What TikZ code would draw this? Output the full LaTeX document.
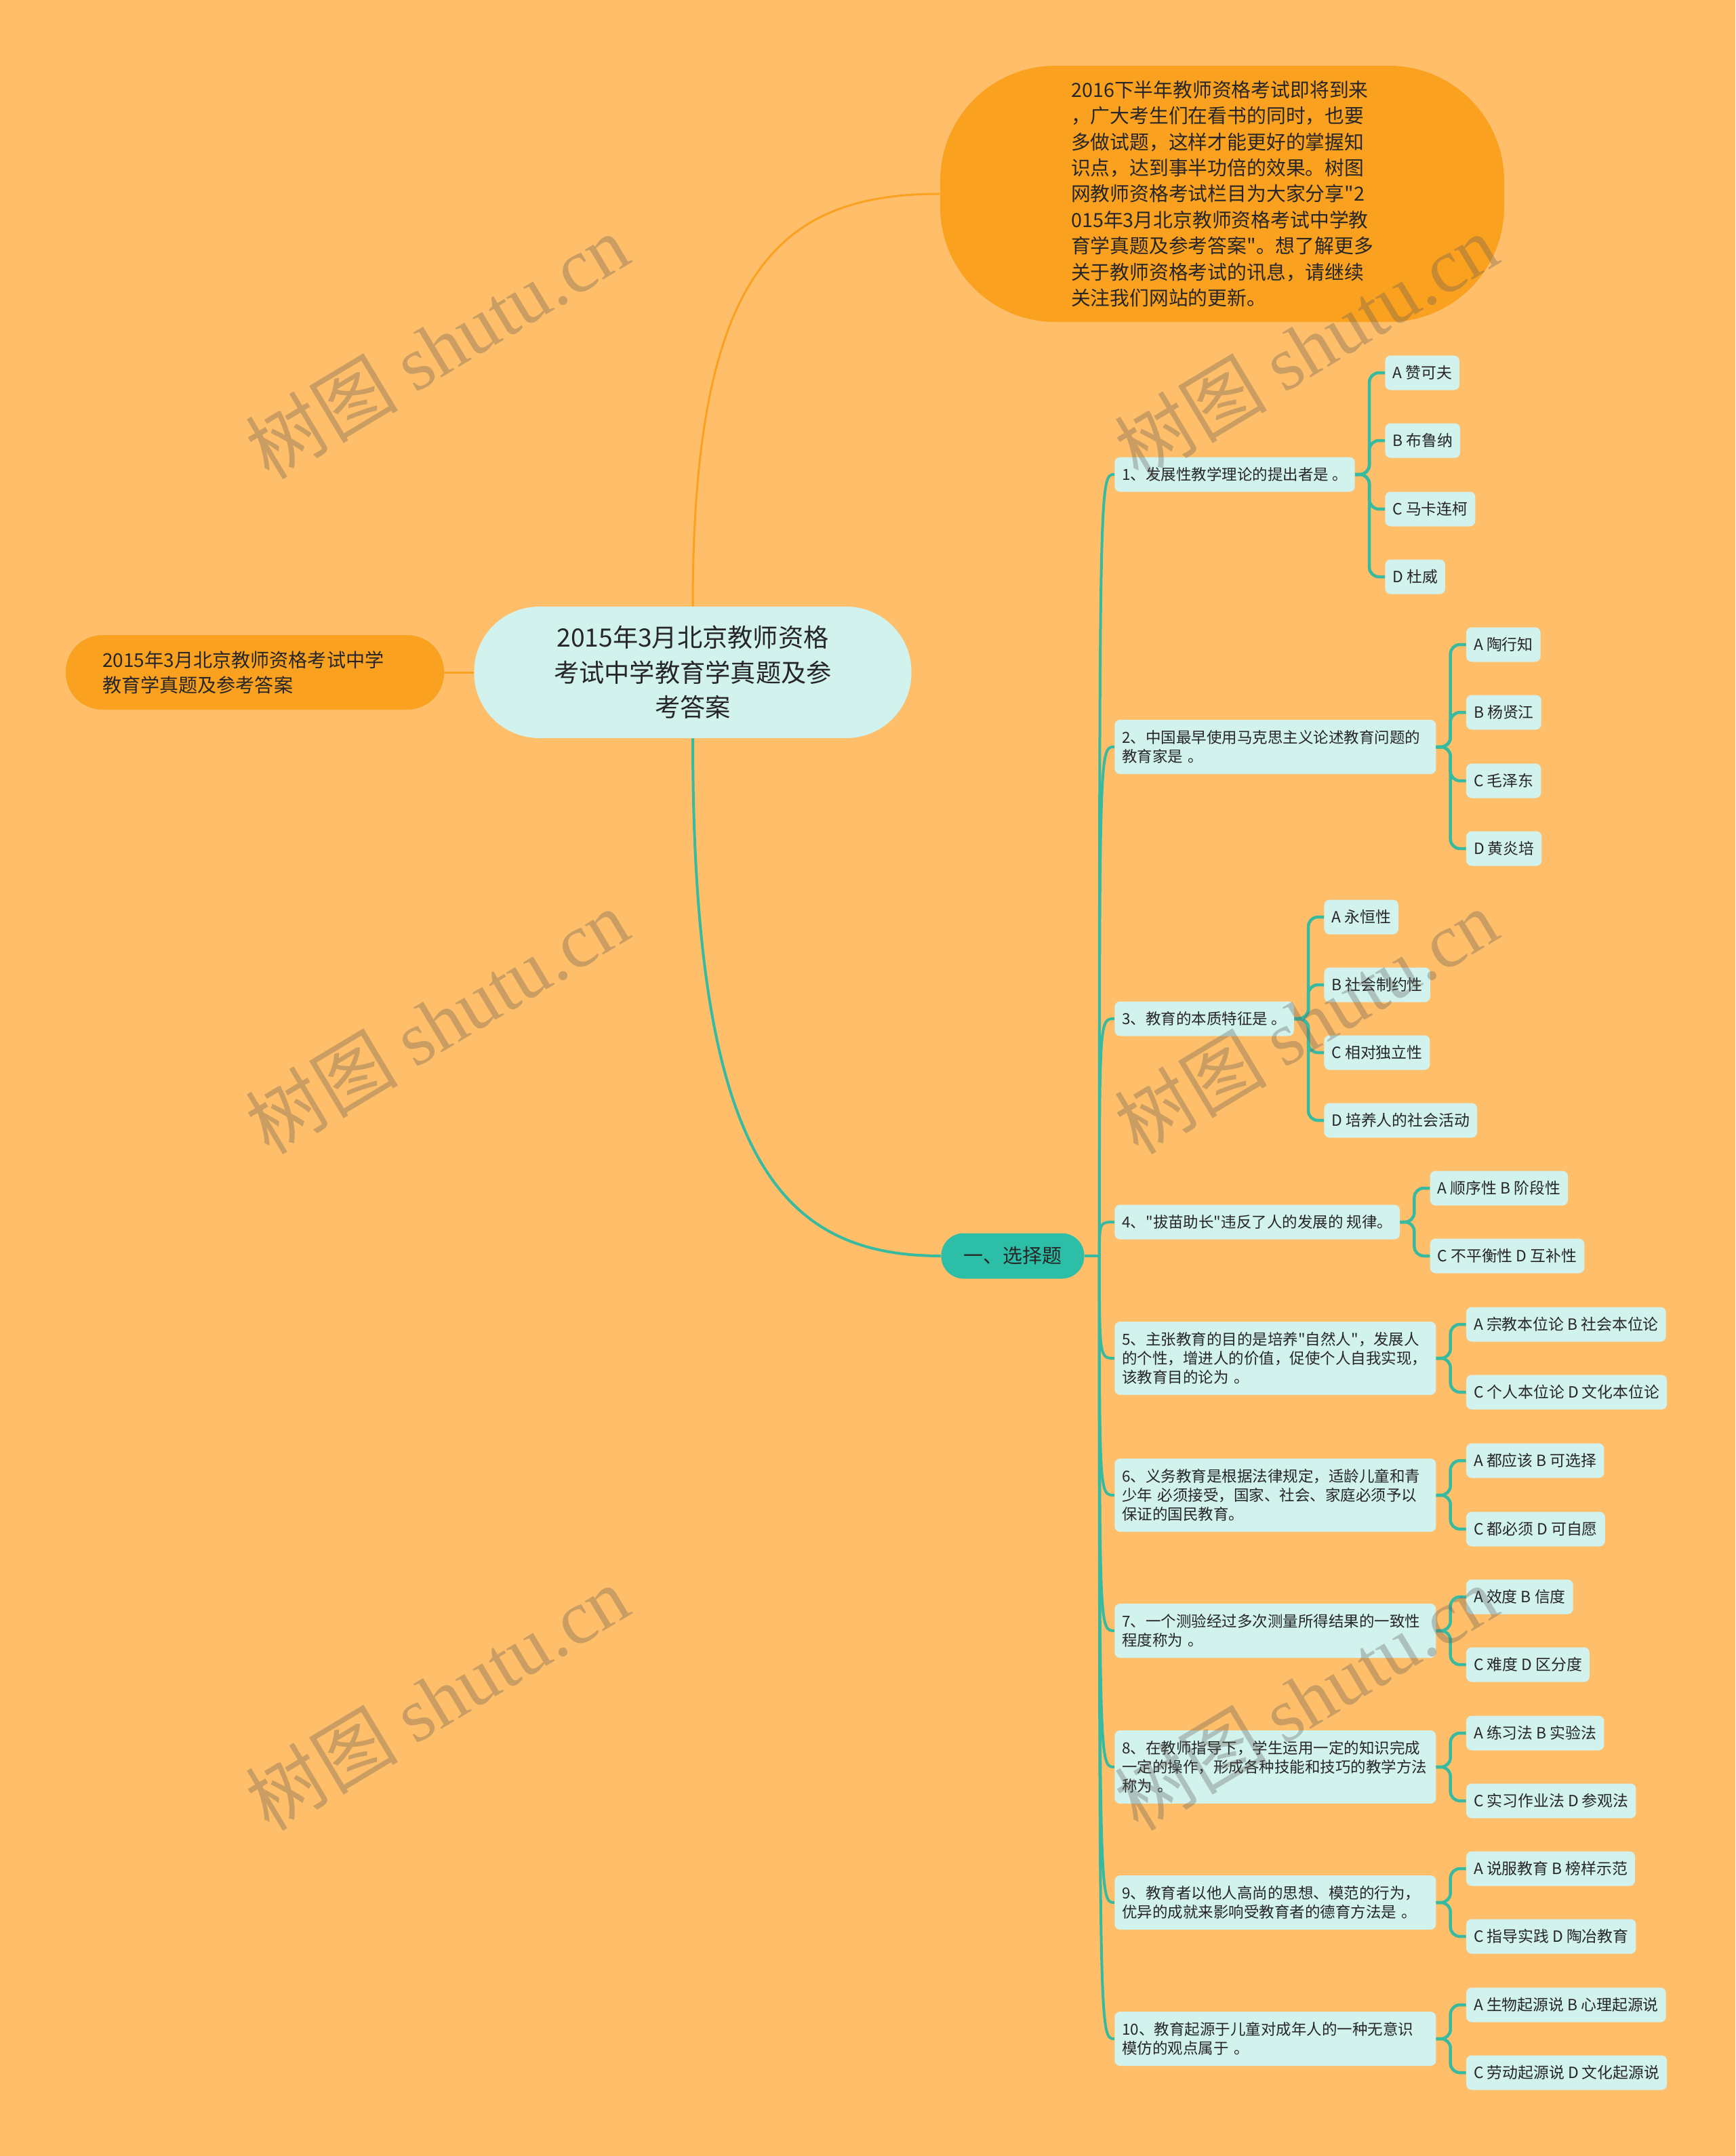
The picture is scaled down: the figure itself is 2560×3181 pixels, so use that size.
\documentclass[tikz,border=0pt]{standalone}
\usepackage{fontspec}
\setmainfont{Noto Sans CJK SC}[Ligatures=TeXOff]
\newfontfamily\wmlatin{Liberation Serif}
\usetikzlibrary{calc}
\definecolor{bgc}{RGB}{254,190,106}
\definecolor{orn}{RGB}{251,161,32}
\definecolor{cyb}{RGB}{210,242,238}
\definecolor{tea}{RGB}{45,190,168}
\definecolor{tln}{RGB}{56,186,160}
\definecolor{txt}{RGB}{38,38,38}
\definecolor{wmc}{RGB}{95,90,85}
\def\PX{0.02cm}
\tikzset{
  qbox/.style={fill=cyb, rounded corners=8*\PX, inner xsep=11*\PX, inner ysep=0pt, anchor=west, text=txt,
    font=\fontsize{12.8}{16.1}\selectfont, align=left, minimum height=51*\PX},
  qtwo/.style={qbox, text width=452*\PX, minimum height=80*\PX},
  qthree/.style={qbox, text width=452*\PX, minimum height=108*\PX},
  abox/.style={qbox, font=\fontsize{13}{16.1}\selectfont},
  tline/.style={draw=tln, line width=4*\PX},
  oline/.style={draw=orn, line width=3*\PX},
  aline/.style={draw=tln, line width=4.5*\PX, rounded corners=14*\PX},
  wm/.style={text=wmc, opacity=0.32, font=\fontsize{64}{70}\selectfont, rotate=31},
}
\begin{document}
\begin{tikzpicture}[x=0.02cm, y=-0.02cm]
\useasboundingbox (0,0) rectangle (2560,3181);
\fill[bgc] (0,0) rectangle (2560,3181);

% main nodes
\node[fill=orn, rounded corners=170*\PX, minimum width=832*\PX, minimum height=378*\PX, text=txt,
  align=left, font=\fontsize{16.4}{21.9}\selectfont, inner sep=0pt] (intro) at (1803,286)
  {2016下半年教师资格考试即将到来\\，广大考生们在看书的同时，也要\\多做试题，这样才能更好的掌握知\\识点，达到事半功倍的效果。树图\\网教师资格考试栏目为大家分享"2\\015年3月北京教师资格考试中学教\\育学真题及参考答案"。想了解更多\\关于教师资格考试的讯息，请继续\\关注我们网站的更新。};

\node[fill=cyb, rounded corners=96*\PX, minimum width=645*\PX, minimum height=194*\PX, text=txt,
  align=center, font=\fontsize{21.2}{29.4}\selectfont, inner sep=0pt] (center) at (1022,992)
  {2015年3月北京教师资格\\考试中学教育学真题及参\\考答案};

\node[fill=orn, rounded corners=54*\PX, minimum height=110*\PX, text=txt, text width=450*\PX,
  inner xsep=54*\PX, inner ysep=0pt,
  align=left, font=\fontsize{16}{20.9}\selectfont] (left) at (376,992)
  {2015年3月北京教师资格考试中学\\教育学真题及参考答案};

\node[fill=tea, rounded corners=33*\PX, minimum width=211*\PX, minimum height=67*\PX, text=txt,
  font=\fontsize{16.5}{20}\selectfont, inner sep=0pt] (sel) at (1494,1853) {一、选择题};

% questions
\node[qbox] (q1) at (1644,700) {1、发展性教学理论的提出者是 。};
\node[qtwo] (q2) at (1644,1102) {2、中国最早使用马克思主义论述教育问题的\\教育家是 。};
\node[qbox] (q3) at (1644,1503) {3、教育的本质特征是 。};
\node[qbox] (q4) at (1644,1803) {4、"拔苗助长"违反了人的发展的 规律。};
\node[qthree] (q5) at (1644,2004) {5、主张教育的目的是培养"自然人"，发展人\\的个性，增进人的价值，促使个人自我实现，\\该教育目的论为 。};
\node[qthree] (q6) at (1644,2206) {6、义务教育是根据法律规定，适龄儿童和青\\少年 必须接受，国家、社会、家庭必须予以\\保证的国民教育。};
\node[qtwo] (q7) at (1644,2406) {7、一个测验经过多次测量所得结果的一致性\\程度称为 。};
\node[qthree] (q8) at (1644,2607) {8、在教师指导下，学生运用一定的知识完成\\一定的操作，形成各种技能和技巧的教学方法\\称为 。};
\node[qtwo] (q9) at (1644,2807) {9、教育者以他人高尚的思想、模范的行为，\\优异的成就来影响受教育者的德育方法是 。};
\node[qtwo] (q10) at (1644,3008) {10、教育起源于儿童对成年人的一种无意识\\模仿的观点属于 。};

% answer columns: 44px right of each question
\foreach \q in {q1,q2,q3,q4,q5,q6,q7,q8,q9,q10}{
  \coordinate (\q j) at ($(\q.east)+(44,0)$);
}

% answers
\node[abox] (a1a) at (q1j |- 0,550) {A 赞可夫};
\node[abox] (a1b) at (q1j |- 0,650) {B 布鲁纳};
\node[abox] (a1c) at (q1j |- 0,751) {C 马卡连柯};
\node[abox] (a1d) at (q1j |- 0,851) {D 杜威};
\node[abox] (a2a) at (q2j |- 0,951) {A 陶行知};
\node[abox] (a2b) at (q2j |- 0,1051) {B 杨贤江};
\node[abox] (a2c) at (q2j |- 0,1152) {C 毛泽东};
\node[abox] (a2d) at (q2j |- 0,1252) {D 黄炎培};
\node[abox] (a3a) at (q3j |- 0,1353) {A 永恒性};
\node[abox] (a3b) at (q3j |- 0,1453) {B 社会制约性};
\node[abox] (a3c) at (q3j |- 0,1553) {C 相对独立性};
\node[abox] (a3d) at (q3j |- 0,1653) {D 培养人的社会活动};
\node[abox] (a4a) at (q4j |- 0,1753) {A 顺序性 B 阶段性};
\node[abox] (a4b) at (q4j |- 0,1853) {C 不平衡性 D 互补性};
\node[abox] (a5a) at (q5j |- 0,1954) {A 宗教本位论 B 社会本位论};
\node[abox] (a5b) at (q5j |- 0,2054) {C 个人本位论 D 文化本位论};
\node[abox] (a6a) at (q6j |- 0,2155) {A 都应该 B 可选择};
\node[abox] (a6b) at (q6j |- 0,2256) {C 都必须 D 可自愿};
\node[abox] (a7a) at (q7j |- 0,2356) {A 效度 B 信度};
\node[abox] (a7b) at (q7j |- 0,2456) {C 难度 D 区分度};
\node[abox] (a8a) at (q8j |- 0,2557) {A 练习法 B 实验法};
\node[abox] (a8b) at (q8j |- 0,2657) {C 实习作业法 D 参观法};
\node[abox] (a9a) at (q9j |- 0,2757) {A 说服教育 B 榜样示范};
\node[abox] (a9b) at (q9j |- 0,2857) {C 指导实践 D 陶冶教育};
\node[abox] (a10a) at (q10j |- 0,2958) {A 生物起源说 B 心理起源说};
\node[abox] (a10b) at (q10j |- 0,3058) {C 劳动起源说 D 文化起源说};

% main connectors
\draw[oline] (left.east) -- (center.west);
\draw[oline] (center.north) .. controls ($(center.north)+(0,-495)$) and ($(intro.west)+(-237,0)$) .. (intro.west);
\draw[tline] (center.south) .. controls ($(center.south)+(0,620)$) and ($(sel.west)+(-237,0)$) .. (sel.west);
\coordinate (tr) at ($(sel.east)+(22,0)$);
\draw[tline] (sel.east) -- (tr);
\foreach \q in {q1,q2,q3,q4,q5,q6,q7,q8,q9,q10}{
  \draw[tline] (tr) .. controls (tr |- \q.west) and (tr |- \q.west) .. (\q.west);
}
\foreach \a in {a1a,a1b,a1c,a1d}{\draw[aline] (q1.east) -- ++(21,0) |- (\a.west);}
\foreach \a in {a2a,a2b,a2c,a2d}{\draw[aline] (q2.east) -- ++(21,0) |- (\a.west);}
\foreach \a in {a3a,a3b,a3c,a3d}{\draw[aline] (q3.east) -- ++(21,0) |- (\a.west);}
\foreach \a in {a4a,a4b}{\draw[aline] (q4.east) -- ++(21,0) |- (\a.west);}
\foreach \a in {a5a,a5b}{\draw[aline] (q5.east) -- ++(21,0) |- (\a.west);}
\foreach \a in {a6a,a6b}{\draw[aline] (q6.east) -- ++(21,0) |- (\a.west);}
\foreach \a in {a7a,a7b}{\draw[aline] (q7.east) -- ++(21,0) |- (\a.west);}
\foreach \a in {a8a,a8b}{\draw[aline] (q8.east) -- ++(21,0) |- (\a.west);}
\foreach \a in {a9a,a9b}{\draw[aline] (q9.east) -- ++(21,0) |- (\a.west);}
\foreach \a in {a10a,a10b}{\draw[aline] (q10.east) -- ++(21,0) |- (\a.west);}

% watermarks
\node[wm] (w1) at (645,511) {树图 {\wmlatin shutu.cn}};
\node[wm] (w2) at (645,1507) {树图 {\wmlatin shutu.cn}};
\node[wm] (w3) at (645,2505) {树图 {\wmlatin shutu.cn}};
\node[wm] (w4) at (1927,511) {树图 {\wmlatin shutu.cn}};
\node[wm] (w5) at (1927,1507) {树图 {\wmlatin shutu.cn}};
\node[wm] (w6) at (1927,2505) {树图 {\wmlatin shutu.cn}};
\end{tikzpicture}
\end{document}
